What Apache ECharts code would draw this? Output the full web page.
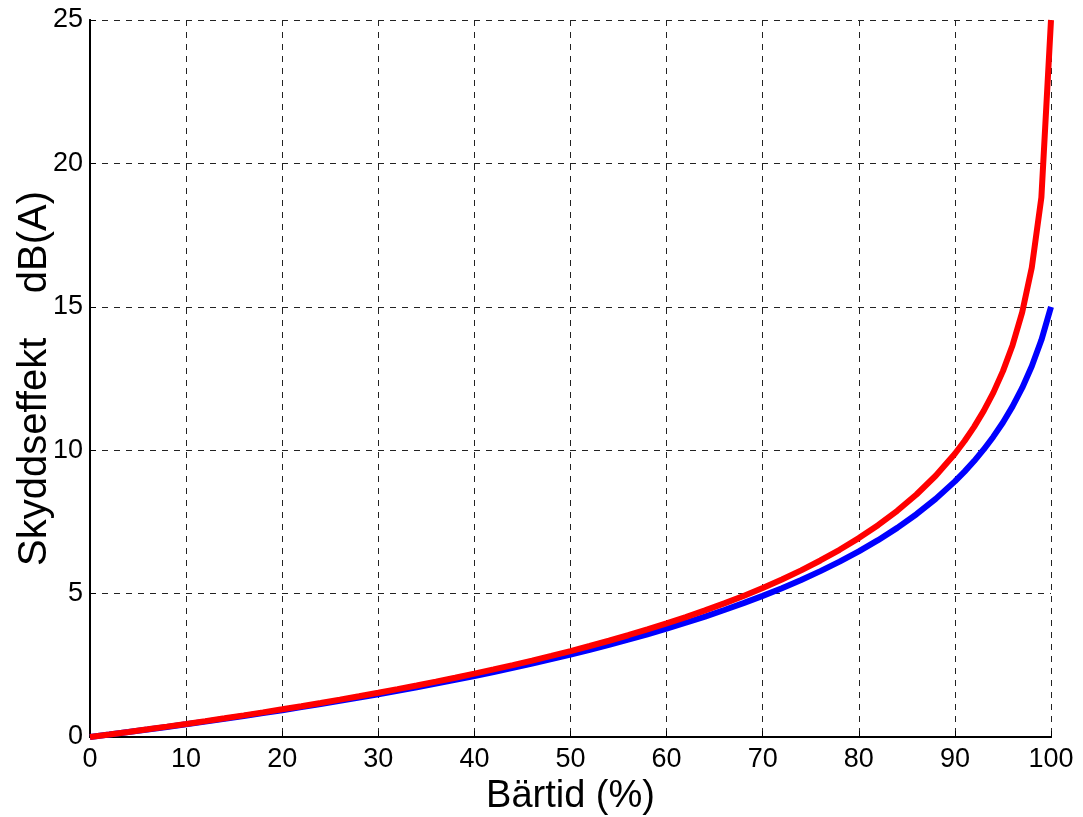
<!DOCTYPE html>
<html>
<head>
<meta charset="utf-8">
<title>Skyddseffekt</title>
<script src="https://cdn.jsdelivr.net/npm/echarts@6/dist/echarts.min.js"></script>
<style>
  html, body { margin: 0; padding: 0; background: #fff; overflow: hidden; }
  #chart { position: absolute; left: 0; top: 0; width: 1083px; height: 817px; }
</style>
</head>
<body>
<div id="chart"></div>
<script>
// Wearing time (%) at which the protection values are given
const wearTime = [0, 2, 4, 6, 8, 10, 12, 14, 16, 18, 20, 22, 24, 26, 28, 30, 32, 34, 36, 38,
  40, 42, 44, 46, 48, 50, 52, 54, 56, 58, 60, 62, 64, 66, 68, 70, 72, 74, 76, 78,
  80, 82, 84, 86, 88, 90, 91, 92, 93, 94, 95, 96, 97, 98, 99, 100];

// Effective protection, 25 dB(A) hearing protector (red)
const protect25 = [0, 0.087, 0.177, 0.268, 0.361, 0.456, 0.553, 0.653, 0.755, 0.859,
  0.966, 1.075, 1.188, 1.303, 1.421, 1.543, 1.668, 1.798, 1.931, 2.068,
  2.209, 2.356, 2.507, 2.664, 2.827, 2.997, 3.173, 3.356, 3.548, 3.749,
  3.959, 4.180, 4.413, 4.659, 4.919, 5.197, 5.493, 5.811, 6.155, 6.527,
  6.935, 7.385, 7.887, 8.455, 9.109, 9.878, 10.321, 10.814, 11.370, 12.008,
  12.757, 13.661, 14.806, 16.364, 18.817, 25.0];

// Effective protection, 15 dB(A) hearing protector (blue)
const protect15 = [0, 0.085, 0.172, 0.260, 0.350, 0.442, 0.537, 0.633, 0.731, 0.832,
  0.935, 1.041, 1.149, 1.260, 1.374, 1.491, 1.611, 1.734, 1.862, 1.993,
  2.128, 2.267, 2.412, 2.561, 2.715, 2.875, 3.041, 3.214, 3.394, 3.582,
  3.778, 3.984, 4.199, 4.427, 4.666, 4.920, 5.189, 5.476, 5.783, 6.114,
  6.472, 6.863, 7.292, 7.768, 8.302, 8.912, 9.253, 9.622, 10.026, 10.471,
  10.967, 11.527, 12.170, 12.925, 13.840, 15.0];

const xTicks = [0, 10, 20, 30, 40, 50, 60, 70, 80, 90, 100];
const yTicks = [0, 5, 10, 15, 20, 25];

const pairs = (xs, ys) => xs.map((x, i) => [x, ys[i]]);

const font = 'Liberation Sans, Arial, Helvetica, sans-serif';
const gridLine = { show: true, lineStyle: { color: '#222', type: [6, 6], width: 1 } };
const frameLine = { show: true, lineStyle: { color: '#000', width: 2 } };

const chart = echarts.init(document.getElementById('chart'), null,
  { renderer: 'canvas', width: 1083, height: 817 });
chart.setOption({
  backgroundColor: '#fff',
  animation: false,
  grid: { left: 90, right: 32, top: 20, bottom: 80, containLabel: false, outerBoundsMode: 'none' },
  xAxis: [{
    type: 'value', min: 0, max: 100, interval: 10,
    name: 'Bärtid (%)', nameLocation: 'middle', nameGap: 41, nameMoveOverlap: false,
    nameTextStyle: { fontFamily: font, fontSize: 38, color: '#000' },
    axisLine: frameLine,
    axisTick: { show: true, inside: true, length: 6, lineStyle: { color: '#000' } },
    axisLabel: { fontFamily: font, fontSize: 27, color: '#000', margin: 9,
      formatter: v => (xTicks.includes(v) ? String(v) : '') },
    splitLine: gridLine
  }, {
    type: 'value', min: 0, max: 100, interval: 10, position: 'top',
    axisLine: frameLine, axisTick: { show: false }, axisLabel: { show: false }, splitLine: { show: false }
  }],
  yAxis: [{
    type: 'value', min: 0, max: 25, interval: 5,
    name: 'Skyddseffekt    dB(A)', nameLocation: 'middle', nameGap: 35, nameMoveOverlap: false,
    nameTextStyle: { fontFamily: font, fontSize: 40, color: '#000' },
    axisLine: frameLine,
    axisTick: { show: true, inside: true, length: 6, lineStyle: { color: '#000' } },
    axisLabel: { fontFamily: font, fontSize: 27, color: '#000', margin: 7,
      formatter: v => (yTicks.includes(v) ? String(v) : '') },
    splitLine: gridLine
  }, {
    type: 'value', min: 0, max: 25, interval: 5, position: 'right',
    axisLine: frameLine, axisTick: { show: false }, axisLabel: { show: false }, splitLine: { show: false }
  }],
  series: [{
    name: '15 dB(A)', type: 'line', data: pairs(wearTime, protect15),
    showSymbol: false, smooth: false, clip: false,
    lineStyle: { color: '#0000ff', width: 6 }, z: 3
  }, {
    name: '25 dB(A)', type: 'line', data: pairs(wearTime, protect25),
    showSymbol: false, smooth: false, clip: false,
    lineStyle: { color: '#ff0000', width: 6 }, z: 4
  }]
});
</script>
</body>
</html>
